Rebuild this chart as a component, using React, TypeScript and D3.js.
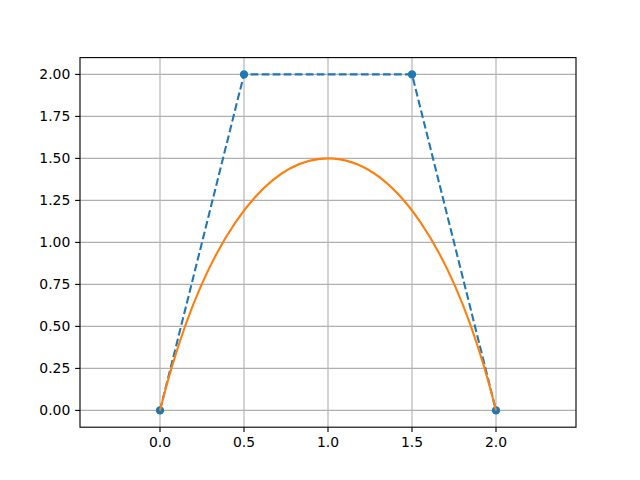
import React from "react";
import * as d3 from "d3";

const ctrlX = [0, 0.5, 1.5, 2];
const ctrlY = [0, 2, 2, 0];
const xTicks = [0, 0.5, 1.0, 1.5, 2.0];
const yTicks = [0, 0.25, 0.5, 0.75, 1.0, 1.25, 1.5, 1.75, 2.0];

const W = 640, H = 480;
const L = 80, R = 576, T = 57.6, B = 427.2;

export default function App() {
  const yDomain: [number, number] = [-0.1, 2.1];
  const scale = (B - T) / (yDomain[1] - yDomain[0]);
  const xHalf = (R - L) / scale / 2;
  const x = d3.scaleLinear().domain([1 - xHalf, 1 + xHalf]).range([L, R]);
  const y = d3.scaleLinear().domain(yDomain).range([B, T]);

  const pts = ctrlX.map((v, i) => [x(v), y(ctrlY[i])] as [number, number]);
  const line = d3.line()(pts) || "";
  const p = d3.path();
  p.moveTo(pts[0][0], pts[0][1]);
  p.bezierCurveTo(pts[1][0], pts[1][1], pts[2][0], pts[2][1], pts[3][0], pts[3][1]);

  const font = "DejaVu Sans";
  const tickLen = 4.86;
  return (
    <svg width={W} height={H} style={{ position: "absolute", left: 0, top: 0, background: "#fff" }}>
      <rect x={0} y={0} width={W} height={H} fill="#fff" />
      <g stroke="#b0b0b0" strokeWidth={1.11}>
        {xTicks.map((t) => (
          <line key={"gx" + t} x1={x(t)} x2={x(t)} y1={T} y2={B} />
        ))}
        {yTicks.map((t) => (
          <line key={"gy" + t} x1={L} x2={R} y1={y(t)} y2={y(t)} />
        ))}
      </g>
      <path d={line} fill="none" stroke="#1f77b4" strokeWidth={2.08} strokeDasharray="7.7,3.33" />
      {pts.map((q, i) => (
        <circle key={i} cx={q[0]} cy={q[1]} r={4.17} fill="#1f77b4" />
      ))}
      <path d={p.toString()} fill="none" stroke="#ff7f0e" strokeWidth={2.08} />
      <rect x={L} y={T} width={R - L} height={B - T} fill="none" stroke="#000" strokeWidth={1.11} />
      <g stroke="#000" strokeWidth={1.11}>
        {xTicks.map((t) => (
          <line key={"tx" + t} x1={x(t)} x2={x(t)} y1={B} y2={B + tickLen} />
        ))}
        {yTicks.map((t) => (
          <line key={"ty" + t} x1={L - tickLen} x2={L} y1={y(t)} y2={y(t)} />
        ))}
      </g>
      <g fontFamily={font} fontSize={13.9} fill="#000">
        {xTicks.map((t) => (
          <text key={"lx" + t} x={x(t)} y={B + tickLen + 4.86} dy="0.76em" textAnchor="middle">
            {t.toFixed(1)}
          </text>
        ))}
        {yTicks.map((t) => (
          <text key={"ly" + t} x={L - tickLen - 4.86} y={y(t)} dy="0.36em" textAnchor="end">
            {t.toFixed(2)}
          </text>
        ))}
      </g>
    </svg>
  );
}
